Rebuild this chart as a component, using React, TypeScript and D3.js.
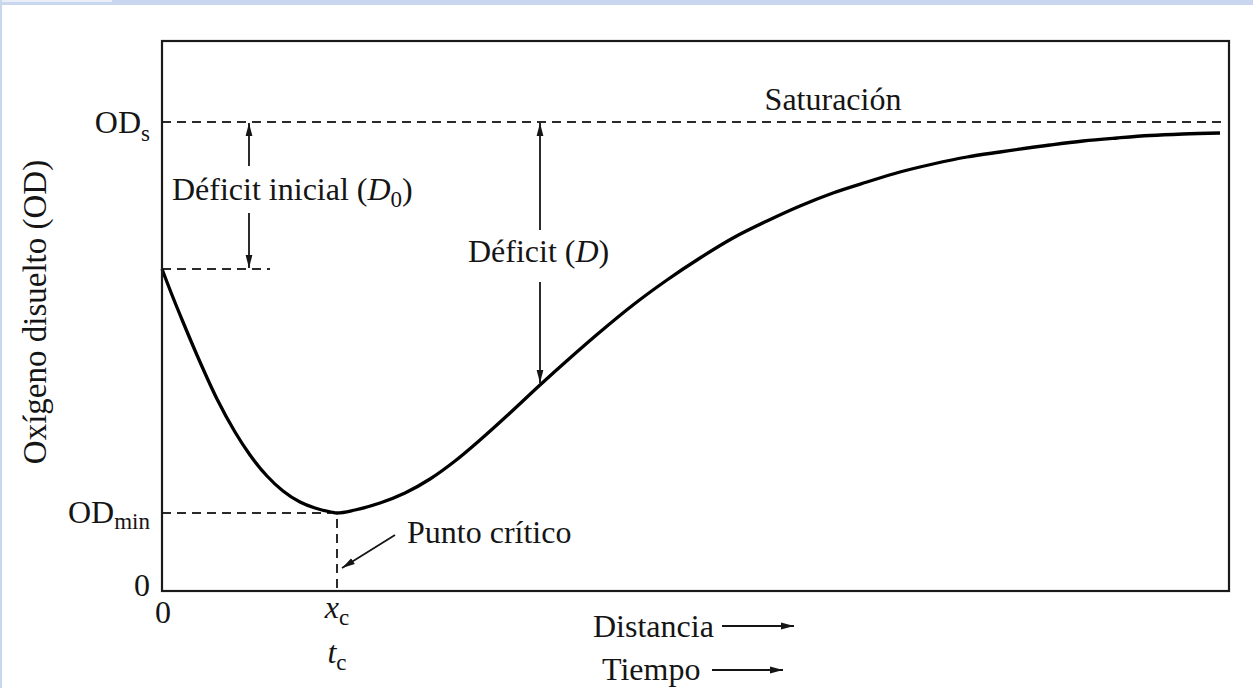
import React, { useEffect, useRef } from 'react';
import * as d3 from 'd3';

// oxygen sag curve (arbitrary units: distance 0..1067, OD 0..550)
const distance = [0, 10, 21, 38, 55, 73, 88, 105, 121, 138, 153, 169, 175, 193, 218, 243, 268, 293, 318, 348, 378, 408, 438, 471, 505, 538, 571, 605, 638, 671, 705, 738, 771, 805, 838, 888, 921, 955, 988, 1021, 1058];
const oxygen = [322, 296, 269, 229, 192, 159, 136, 115, 100, 89, 83, 79, 78, 81, 88, 98, 112, 130, 151, 178, 206, 233, 259, 286, 311, 333, 353, 370, 385, 398, 409, 419, 427, 434, 439, 446, 450, 453, 455.5, 457, 458];

const odSat = 469;
const odMin = 78;
const odStart = 322;
const xCrit = 175;
const xD0Arrow = 87;
const xDArrow = 378;
const xMax = 1067;
const yMax = 550;

const FONT = '"Liberation Serif", "Times New Roman", serif';
const INK = '#151515';

const App = () => {
    const svgRef = useRef<SVGSVGElement>(null);

    useEffect(() => {
        const svg = d3.select(svgRef.current);
        svg.selectAll('*').remove();

        const width = 1253;
        const height = 688;
        const margin = { top: 41, right: 24, bottom: 97, left: 162 };

        const x = d3.scaleLinear().domain([0, xMax]).range([margin.left, width - margin.right]);
        const y = d3.scaleLinear().domain([0, yMax]).range([height - margin.bottom, margin.top]);

        // page border strips
        svg.append('rect').attr('x', 0).attr('y', 0).attr('width', width).attr('height', 5).attr('fill', '#c9d7ee');
        svg.append('rect').attr('x', 0).attr('y', 0).attr('width', 112).attr('height', 2).attr('fill', '#e9eef8');
        svg.append('rect').attr('x', 0).attr('y', 0).attr('width', 2).attr('height', height).attr('fill', '#c9d7ee');

        const defs = svg.append('defs');
        defs.append('marker')
            .attr('id', 'head')
            .attr('viewBox', '0 0 13 8')
            .attr('refX', 13)
            .attr('refY', 4)
            .attr('markerWidth', 13)
            .attr('markerHeight', 8)
            .attr('markerUnits', 'userSpaceOnUse')
            .attr('orient', 'auto')
            .append('path')
            .attr('d', 'M0,0.6 L13,4 L0,7.4 Z')
            .attr('fill', INK);

        const g = svg.append('g');

        // dashed reference lines
        const dashed = (x1: number, y1: number, x2: number, y2: number) =>
            g.append('line')
                .attr('x1', x1).attr('y1', y1).attr('x2', x2).attr('y2', y2)
                .attr('stroke', '#2a2a2a')
                .attr('stroke-width', 2)
                .attr('stroke-dasharray', '9,6');

        dashed(x(0), y(odSat), x(xMax) - 5, y(odSat));
        dashed(x(0), y(odStart), x(0) + 108, y(odStart));
        dashed(x(0), y(odMin), x(xCrit) - 6, y(odMin));
        dashed(x(xCrit), y(odMin) + 6, x(xCrit), y(0));

        // curve
        const line = d3.line<number>()
            .x((d, i) => x(distance[i]))
            .y(d => y(d))
            .curve(d3.curveMonotoneX);

        g.append('path')
            .datum(oxygen)
            .attr('d', line)
            .attr('fill', 'none')
            .attr('stroke', '#000')
            .attr('stroke-width', 3.3);

        // frame
        g.append('rect')
            .attr('x', x(0))
            .attr('y', y(yMax))
            .attr('width', x(xMax) - x(0))
            .attr('height', y(0) - y(yMax))
            .attr('fill', 'none')
            .attr('stroke', '#1a1a1a')
            .attr('stroke-width', 2.2);

        const arrow = (x1: number, y1: number, x2: number, y2: number) =>
            g.append('line')
                .attr('x1', x1).attr('y1', y1).attr('x2', x2).attr('y2', y2)
                .attr('stroke', INK)
                .attr('stroke-width', 1.8)
                .attr('marker-end', 'url(#head)');

        // initial deficit arrows
        arrow(x(xD0Arrow), y(odSat) + 44, x(xD0Arrow), y(odSat) + 1);
        arrow(x(xD0Arrow), y(odStart) - 56, x(xD0Arrow), y(odStart) - 1);

        // deficit arrows
        const curveAtD = oxygen[distance.indexOf(xDArrow)];
        arrow(x(xDArrow), y(odSat) + 108, x(xDArrow), y(odSat) + 1);
        arrow(x(xDArrow), y(odSat) + 160, x(xDArrow), y(curveAtD) - 2);

        // critical point arrow
        arrow(x(xCrit) + 58, y(odMin) + 22, x(xCrit) + 5, y(0) - 23);

        // axis direction arrows
        arrow(722, 626, 794, 626);
        arrow(712, 670, 783, 670);

        const text = (px: number, py: number, anchor = 'start', size = 32) =>
            g.append('text')
                .attr('x', px)
                .attr('y', py)
                .attr('text-anchor', anchor)
                .attr('font-family', FONT)
                .attr('font-size', size)
                .attr('fill', INK);

        // y tick labels
        const ods = text(150, y(odSat) + 11, 'end');
        ods.append('tspan').text('OD');
        ods.append('tspan').attr('font-size', 23).attr('dy', 8).text('s');

        const odm = text(150, y(odMin) + 10, 'end');
        odm.append('tspan').text('OD');
        odm.append('tspan').attr('font-size', 23).attr('dy', 6).text('min');

        text(150, y(0) + 5, 'end').text('0');

        // x tick labels
        text(x(0) + 1, y(0) + 32, 'middle').text('0');

        const xc = text(x(xCrit), y(0) + 27, 'middle');
        xc.append('tspan').attr('font-style', 'italic').text('x');
        xc.append('tspan').attr('font-size', 23).attr('dy', 7).text('c');

        const tc = text(x(xCrit), y(0) + 72, 'middle');
        tc.append('tspan').attr('font-style', 'italic').text('t');
        tc.append('tspan').attr('font-size', 23).attr('dy', 7).text('c');

        // annotations
        text(833, y(odSat) - 12, 'middle').text('Saturación');

        const d0 = text(172, 200);
        d0.append('tspan').text('Déficit inicial (');
        d0.append('tspan').attr('font-style', 'italic').text('D');
        d0.append('tspan').attr('font-size', 23).attr('dy', 7).text('0');
        d0.append('tspan').attr('dy', -7).text(')');

        const dd = text(468, 262);
        dd.append('tspan').text('Déficit (');
        dd.append('tspan').attr('font-style', 'italic').text('D');
        dd.append('tspan').text(')');

        text(407, 543).text('Punto crítico');

        text(593, 637).text('Distancia');
        text(602, 680).text('Tiempo');

        // y axis label
        text(0, 0, 'middle', 33)
            .attr('transform', 'translate(46,312) rotate(-90)')
            .text('Oxígeno disuelto (OD)');
    }, []);

    return (
        <div>
            <style>{'body{margin:0;background:#fff}'}</style>
            <svg ref={svgRef} width="1253" height="688" style={{ display: 'block' }}></svg>
        </div>
    );
};

export default App;
